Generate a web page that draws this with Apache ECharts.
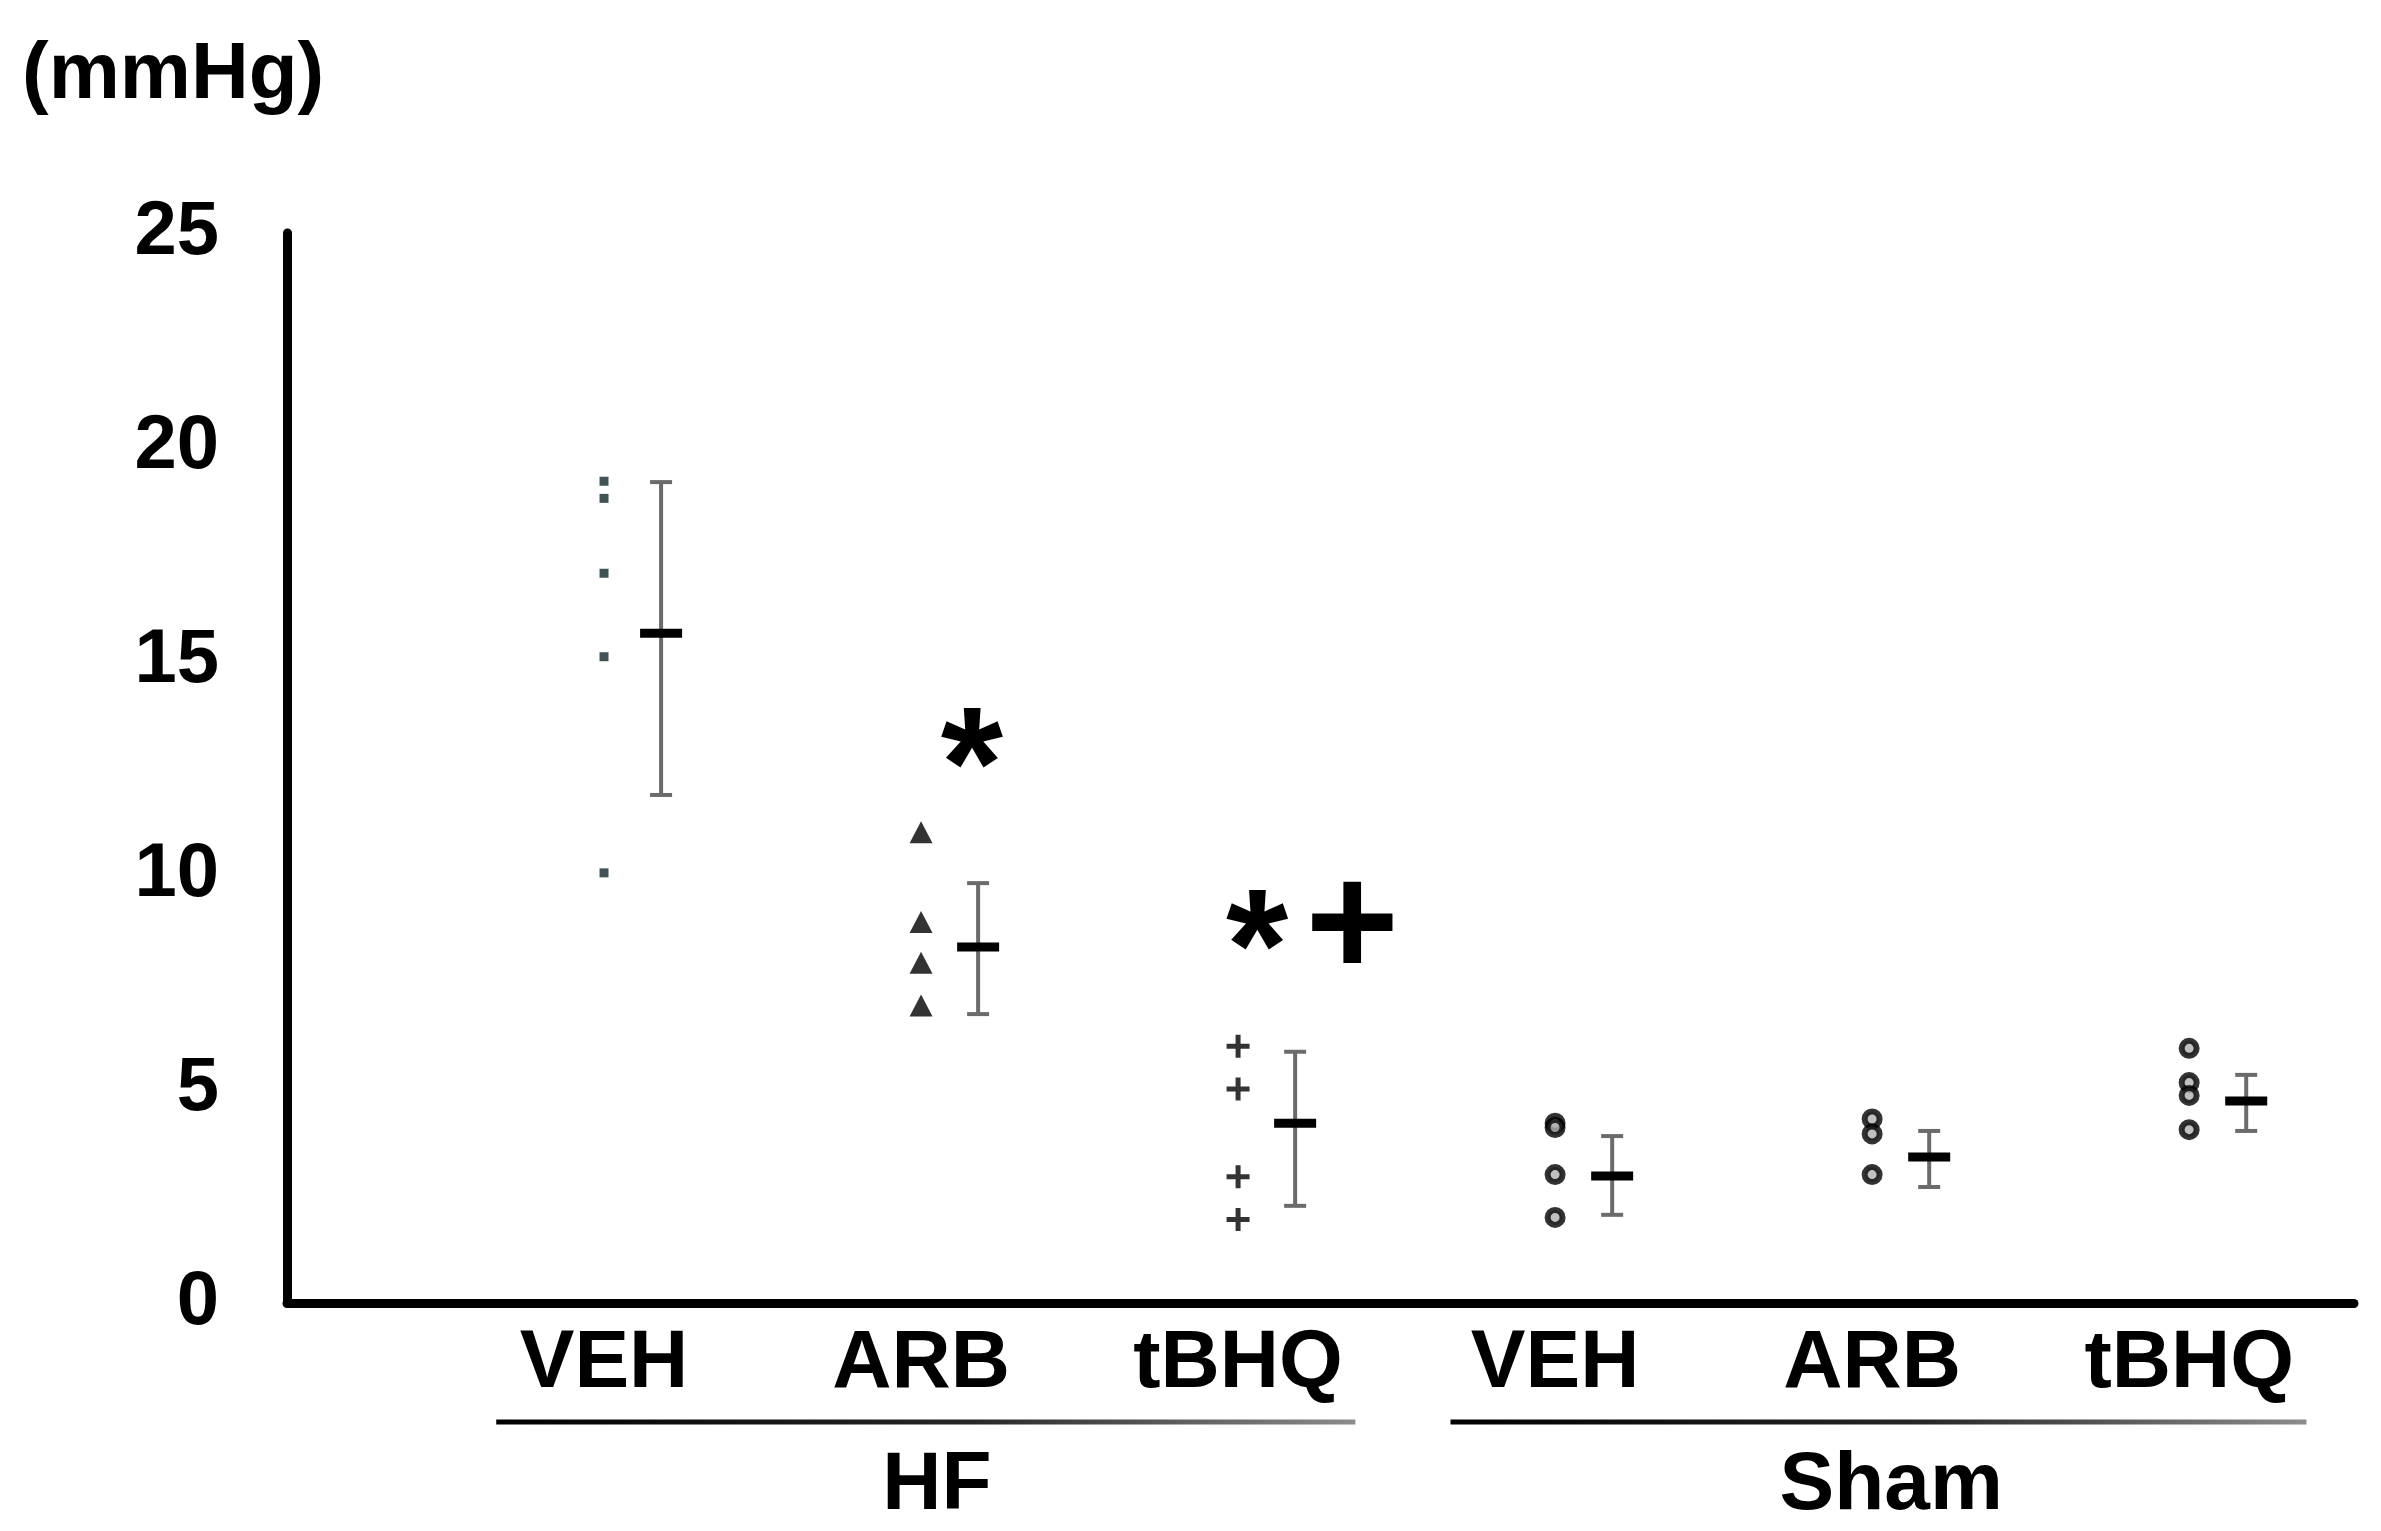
<!DOCTYPE html>
<html><head><meta charset="utf-8">
<script src="https://cdn.jsdelivr.net/npm/echarts@6/dist/echarts.min.js"></script>
<style>html,body{margin:0;padding:0;background:#fff}#c{width:2381px;height:1531px}</style>
</head><body><div id="c"></div>
<script>
// ---- data ----
const categories = ['VEH', 'ARB', 'tBHQ', 'VEH', 'ARB', 'tBHQ'];
const groups = ['HF', 'Sham'];
const yTicks = [0, 5, 10, 15, 20, 25];
const unitLabel = '(mmHg)';
const hfVeh = [19.2, 18.8, 17.05, 15.1, 10.05];
const hfArb = [11.0, 8.9, 7.95, 6.95];
const hfTbhq = [6.0, 5.0, 2.95, 1.95];
const shamVeh = [4.2, 4.1, 3.0, 2.0];
const shamArb = [4.3, 3.95, 3.0];
const shamTbhq = [5.95, 5.15, 4.85, 4.05];
const means = [15.65, 8.32, 4.2, 2.97, 3.41, 4.72];
const errLow = [11.87, 6.75, 2.27, 2.06, 2.71, 4.02];
const errHigh = [19.18, 9.81, 5.87, 3.9, 4.02, 5.33];
const marks = ['*', '*', '+'];
const markX = [2.16, 3.06, 3.36];
const markY = [13.15, 8.9, 8.75];

// ---- layout ----
const FONT = '"Liberation Sans", Arial, sans-serif';
const catPos = categories.map((c, i) => i + 1);
const meanOffset = 0.18;
const groupRanges = [[0.66, 3.37], [3.67, 6.37]];
const groupLabelPos = [2.05, 5.06];

const chart = echarts.init(document.getElementById('c'));

function pts(arr, i) { return arr.map(v => [catPos[i], v]); }

function renderErr(params, api) {
  const x = api.value(0) + meanOffset;
  const m = api.coord([x, api.value(1)]);
  const lo = api.coord([x, api.value(2)]);
  const hi = api.coord([x, api.value(3)]);
  const es = { stroke: '#6b6b6b', lineWidth: 4 };
  return { type: 'group', children: [
    { type: 'line', shape: { x1: hi[0], y1: hi[1], x2: lo[0], y2: lo[1] }, style: es },
    { type: 'line', shape: { x1: hi[0] - 11, y1: hi[1], x2: hi[0] + 11, y2: hi[1] }, style: es },
    { type: 'line', shape: { x1: lo[0] - 11, y1: lo[1], x2: lo[0] + 11, y2: lo[1] }, style: es },
    { type: 'line', shape: { x1: m[0] - 21, y1: m[1], x2: m[0] + 21, y2: m[1] }, style: { stroke: '#000', lineWidth: 9 } }
  ]};
}

function renderMark(params, api) {
  const p = api.coord([api.value(0), api.value(1)]);
  const t = marks[params.dataIndex];
  const F = 160;
  const dy = t === '*' ? 0.21 * F : 0.02 * F;
  return { type: 'text', x: p[0], y: p[1] + dy,
    style: { text: t, font: 'bold ' + F + 'px ' + FONT, fill: '#000', align: 'center', verticalAlign: 'middle' } };
}

function renderGroup(params, api) {
  const a = api.coord([api.value(0), 0]);
  const b = api.coord([api.value(1), 0]);
  const c = api.coord([groupLabelPos[params.dataIndex], 0]);
  const y = a[1] + 119;
  return { type: 'group', children: [
    { type: 'line', shape: { x1: a[0], y1: y, x2: b[0], y2: y },
      style: { lineWidth: 5, stroke: new echarts.graphic.LinearGradient(0, 0, 1, 0, [
        { offset: 0, color: '#000' }, { offset: 0.55, color: '#262626' }, { offset: 1, color: '#8c8c8c' }]) } },
    { type: 'text', x: c[0], y: a[1] + 142,
      style: { text: groups[params.dataIndex], font: 'bold 82px ' + FONT, fill: '#000', align: 'center', verticalAlign: 'top' } }
  ]};
}

chart.setOption({
  animation: false,
  backgroundColor: '#fff',
  title: { text: unitLabel, left: 22, top: 36, padding: 0,
    textStyle: { fontSize: 80, fontWeight: 'bold', color: '#000', fontFamily: FONT } },
  grid: { left: 287, right: 27, top: 233, bottom: 228 },
  xAxis: {
    type: 'value', min: 0, max: 6.52, interval: 1,
    splitLine: { show: false }, axisTick: { show: false },
    axisLine: { show: true, onZero: false, lineStyle: { color: '#000', width: 9 } },
    axisLabel: {
      formatter: (v) => (Number.isInteger(v) && v >= 1 && v <= categories.length) ? categories[v - 1] : '',
      fontSize: 82, fontWeight: 'bold', color: '#000', fontFamily: FONT, margin: 20,
      showMinLabel: true, showMaxLabel: false
    }
  },
  yAxis: { type: 'value', min: yTicks[0], max: yTicks[yTicks.length - 1], interval: 5,
    splitLine: { show: false }, axisTick: { show: false },
    axisLine: { show: true, lineStyle: { color: '#000', width: 9 } },
    axisLabel: { fontSize: 76, fontWeight: 'bold', color: '#000', fontFamily: FONT, margin: 68 } },
  series: [
    { type: 'scatter', data: pts(hfVeh, 0), symbol: 'rect', symbolSize: 9, itemStyle: { color: '#10292e' } },
    { type: 'scatter', data: pts(hfArb, 1), symbol: 'triangle', symbolSize: [23, 22], itemStyle: { color: '#000' } },
    { type: 'scatter', data: pts(hfTbhq, 2), symbol: 'path://M9,0H14V9H23V14H14V23H9V14H0V9H9Z', symbolSize: 23, itemStyle: { color: '#000' } },
    { type: 'scatter', data: pts(shamVeh, 3), symbol: 'circle', symbolSize: 15, itemStyle: { color: '#b0b0b0', borderColor: '#000', borderWidth: 6 } },
    { type: 'scatter', data: pts(shamArb, 4), symbol: 'circle', symbolSize: 15, itemStyle: { color: '#b0b0b0', borderColor: '#000', borderWidth: 6 } },
    { type: 'scatter', data: pts(shamTbhq, 5), symbol: 'circle', symbolSize: 15, itemStyle: { color: '#b0b0b0', borderColor: '#000', borderWidth: 6 } },
    { type: 'custom', renderItem: renderErr, clip: false,
      data: means.map((m, i) => [catPos[i], m, errLow[i], errHigh[i]]) },
    { type: 'custom', renderItem: renderMark, clip: false,
      data: marks.map((t, i) => [markX[i], markY[i]]) },
    { type: 'custom', renderItem: renderGroup, clip: false, data: groupRanges }
  ]
});
</script></body></html>
